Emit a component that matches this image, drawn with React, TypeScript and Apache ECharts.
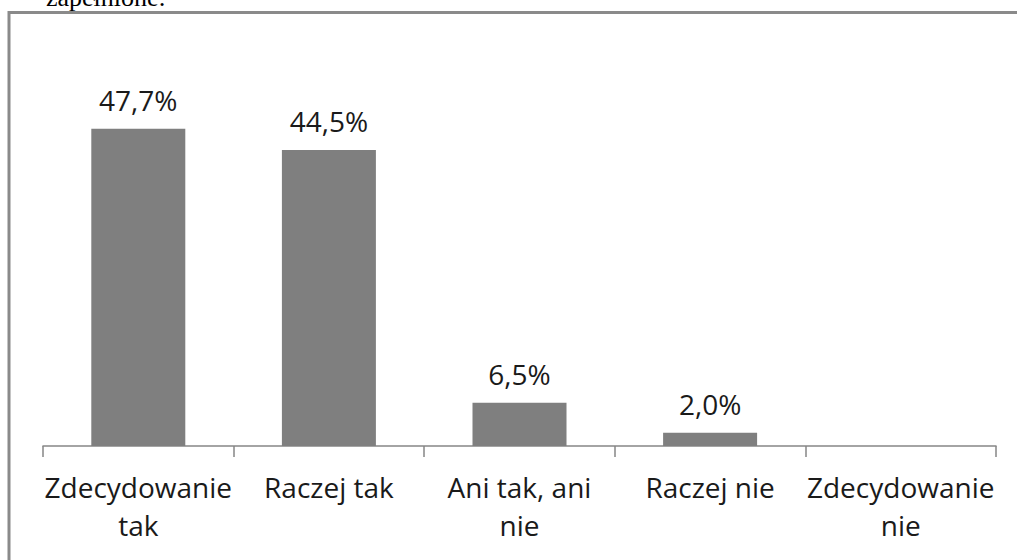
import React, { useEffect, useRef } from "react";
import * as echarts from "echarts";

const categories = [
  "Zdecydowanie\ntak",
  "Raczej tak",
  "Ani tak, ani\nnie",
  "Raczej nie",
  "Zdecydowanie\nnie",
];
const values = [47.7, 44.5, 6.5, 2.0, 0];
const headingText = "zapełnione:";

const FONT = "'Open Sans', 'Noto Sans', sans-serif";

export default function App() {
  const ref = useRef<HTMLDivElement>(null);
  useEffect(() => {
    if (!ref.current) return;
    const chart = echarts.init(ref.current, undefined, { renderer: "svg" });
    chart.setOption({
      animation: false,
      backgroundColor: "#ffffff",
      grid: { left: 43, right: 21, top: 47, bottom: 114, containLabel: false },
      xAxis: {
        type: "category",
        data: categories,
        axisLine: { show: true, lineStyle: { color: "#868686", width: 1.5 } },
        axisTick: { show: true, length: 11, lineStyle: { color: "#868686", width: 1.5 } },
        axisLabel: {
          interval: 0,
          margin: 22,
          color: "#1a1a1a",
          fontFamily: FONT,
          fontSize: 28,
          lineHeight: 38,
        },
      },
      yAxis: {
        type: "value",
        min: 0,
        max: 60,
        show: false,
        splitLine: { show: false },
      },
      series: [
        {
          type: "bar",
          data: values,
          barWidth: 94,
          itemStyle: { color: "#7f7f7f" },
          label: {
            show: true,
            position: "top",
            distance: 15,
            color: "#1a1a1a",
            fontFamily: FONT,
            fontSize: 28,
            formatter: (p: any) =>
              p.value > 0 ? p.value.toFixed(1).replace(".", ",") + "%" : "",
          },
        },
      ],
      graphic: [
        {
          type: "polyline",
          shape: { points: [[9, 560], [9, 12.5], [1017, 12.5]] },
          style: { stroke: "#8a8a8a", lineWidth: 3, fill: "none" },
        },
        {
          type: "text",
          x: 46,
          y: 10,
          style: {
            text: headingText,
            fontFamily: "'Liberation Serif', 'DejaVu Serif', serif",
            fontSize: 26,
            fill: "#000000",
            textVerticalAlign: "bottom",
          },
        },
      ],
    });
    return () => chart.dispose();
  }, []);
  return (
    <div
      ref={ref}
      style={{ position: "fixed", left: 0, top: 0, width: 1017, height: 560 }}
    />
  );
}
